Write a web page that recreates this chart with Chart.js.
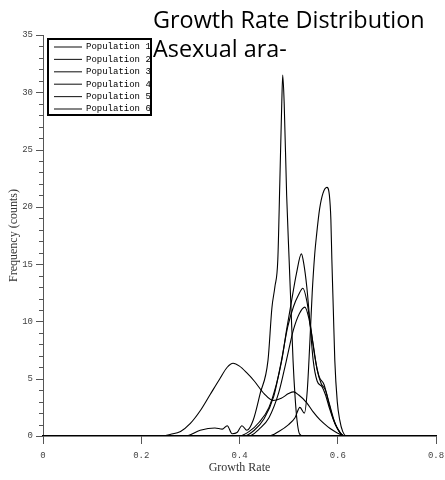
<!DOCTYPE html>
<html>
<head>
<meta charset="utf-8">
<script src="https://cdn.jsdelivr.net/npm/chart.js@4.4.1/dist/chart.umd.min.js"></script>
<style>
  html, body { margin: 0; padding: 0; background: #fff; }
  #wrap { width: 445px; height: 480px; position: relative; }
</style>
</head>
<body>
<div id="wrap"><canvas id="growth"></canvas></div>
<script>
// titles and labels
const titleLines = ["Growth Rate Distribution", "Asexual ara-"];
const seriesNames = ["Population 1", "Population 2", "Population 3", "Population 4", "Population 5", "Population 6"];
const xTickValues = [0, 0.2, 0.4, 0.6, 0.8];

// growth rate (x) and frequency (y), one pair per population
const pop1X = [0, 0.24, 0.26, 0.28, 0.30, 0.32, 0.34, 0.36, 0.375, 0.387, 0.40, 0.415, 0.43, 0.45, 0.468, 0.485, 0.50, 0.51, 0.52, 0.537, 0.55, 0.564, 0.58, 0.59, 0.60, 0.615, 0.8];
const pop1Y = [0, 0, 0.15, 0.4, 1.1, 2.2, 3.6, 5.0, 6.0, 6.35, 6.1, 5.5, 4.8, 3.7, 3.1, 3.3, 3.7, 3.85, 3.6, 2.9, 2.1, 1.4, 0.8, 0.5, 0.25, 0, 0];

const pop2X = [0, 0.29, 0.32, 0.35, 0.365, 0.375, 0.385, 0.395, 0.405, 0.415, 0.428, 0.442, 0.458, 0.466, 0.472, 0.478, 0.482, 0.486, 0.488, 0.491, 0.496, 0.501, 0.505, 0.509, 0.513, 0.517, 0.522, 0.53, 0.8];
const pop2Y = [0, 0, 0.5, 0.7, 0.6, 0.9, 0.2, 0.3, 0.9, 0.5, 1.4, 3.7, 6.6, 11.2, 13.0, 15.4, 22, 29, 31.5, 29, 21, 15.4, 11, 6.6, 3.5, 1.4, 0.2, 0, 0];

const pop3X = [0, 0.46, 0.48, 0.50, 0.513, 0.523, 0.532, 0.538, 0.543, 0.548, 0.553, 0.557, 0.563, 0.57, 0.578, 0.583, 0.586, 0.588, 0.591, 0.594, 0.599, 0.604, 0.61, 0.618, 0.8];
const pop3Y = [0, 0, 0.4, 1.0, 1.6, 2.5, 2.0, 4, 8, 12.5, 15.8, 17.6, 19.8, 21.2, 21.7, 21, 18.9, 15.4, 11, 6.6, 3.0, 1.4, 0.4, 0, 0];

const pop4X = [0, 0.40, 0.42, 0.44, 0.46, 0.475, 0.486, 0.496, 0.506, 0.516, 0.526, 0.531, 0.537, 0.543, 0.55, 0.558, 0.568, 0.575, 0.584, 0.595, 0.605, 0.615, 0.8];
const pop4Y = [0, 0, 0.4, 1.2, 2.5, 4.5, 6.6, 9.3, 11.8, 14.2, 15.9, 15, 13, 10.1, 6.6, 4.8, 4.3, 3.6, 2.3, 1.0, 0.3, 0, 0];

const pop5X = [0, 0.41, 0.43, 0.45, 0.47, 0.485, 0.498, 0.51, 0.52, 0.529, 0.537, 0.545, 0.553, 0.562, 0.572, 0.58, 0.59, 0.60, 0.612, 0.8];
const pop5Y = [0, 0, 0.5, 1.5, 3.5, 6.5, 9.5, 11.3, 12.3, 12.9, 11.8, 9.5, 7, 5.2, 4.5, 3.2, 1.6, 0.6, 0, 0];

const pop6X = [0, 0.42, 0.44, 0.46, 0.48, 0.495, 0.51, 0.522, 0.533, 0.541, 0.55, 0.558, 0.566, 0.575, 0.583, 0.593, 0.603, 0.613, 0.8];
const pop6Y = [0, 0, 0.6, 1.6, 3.8, 6.5, 9.3, 10.7, 11.25, 10.3, 8, 5.8, 4.6, 4.0, 2.8, 1.3, 0.4, 0, 0];

const allX = [pop1X, pop2X, pop3X, pop4X, pop5X, pop6X];
const allY = [pop1Y, pop2Y, pop3Y, pop4Y, pop5Y, pop6Y];

const monoFont = "'Liberation Mono', 'DejaVu Sans Mono', monospace";
const serifFont = "'Liberation Serif', 'DejaVu Serif', serif";

const datasets = seriesNames.map((name, i) => ({
    label: name,
    data: allX[i].map((x, j) => ({ x: x, y: allY[i][j] })),
    borderColor: "#000",
    borderWidth: 1.1,
    pointRadius: 0,
    fill: false,
    cubicInterpolationMode: "monotone"
}));

// y axis ticks: long at multiples of 5, short in between
const axisTicks = {
    id: "axisTicks",
    afterDraw(chart) {
        const c = chart.ctx;
        const ys = chart.scales.y;
        c.save();
        c.strokeStyle = "#555";
        c.lineWidth = 1;
        ys.ticks.forEach(t => {
            const py = Math.round(ys.getPixelForValue(t.value)) + 0.5;
            const len = t.value % 5 === 0 ? 7 : 4;
            c.beginPath();
            c.moveTo(ys.right - len, py);
            c.lineTo(ys.right, py);
            c.stroke();
        });
        c.restore();
    }
};

// boxed legend sitting inside the plot, top left
const boxLegend = {
    id: "boxLegend",
    afterDraw(chart) {
        const c = chart.ctx;
        const left = chart.chartArea.left + 5, top = chart.chartArea.top + 4;
        c.save();
        c.strokeStyle = "#000";
        c.lineWidth = 2;
        c.fillStyle = "#fff";
        c.fillRect(left, top, 103, 76);
        c.strokeRect(left, top, 103, 76);
        c.font = "9px " + monoFont;
        c.textBaseline = "middle";
        chart.data.datasets.forEach((ds, i) => {
            const y = top + 8 + i * 12.4;
            c.strokeStyle = "#222";
            c.lineWidth = 1.1;
            c.beginPath();
            c.moveTo(left + 6, y);
            c.lineTo(left + 34, y);
            c.stroke();
            c.fillStyle = "#000";
            c.fillText(ds.label, left + 38, y);
        });
        c.restore();
    }
};

// two line title written over the top right
const overTitle = {
    id: "overTitle",
    afterDraw(chart) {
        const c = chart.ctx;
        c.save();
        c.fillStyle = "#000";
        c.font = "23.4px 'Open Sans', 'Liberation Sans', sans-serif";
        c.textBaseline = "alphabetic";
        c.fillText(titleLines[0], 153, 28);
        c.fillText(titleLines[1], 153, 57);
        c.restore();
    }
};

new Chart(document.getElementById("growth"), {
    type: "line",
    data: { datasets: datasets },
    options: {
        responsive: true,
        maintainAspectRatio: false,
        animation: false,
        layout: { padding: { top: 35, right: 9, left: 0, bottom: 0 } },
        plugins: {
            legend: { display: false },
            tooltip: { enabled: false }
        },
        scales: {
            x: {
                type: "linear",
                min: 0,
                max: 0.8,
                afterFit(s) { s.height = 44; s.paddingLeft = 0; s.paddingRight = 9; },
                afterBuildTicks(s) { s.ticks = xTickValues.map(v => ({ value: v })); },
                grid: { drawOnChartArea: false, drawTicks: true, tickLength: 8, color: "#555" },
                border: { display: true, color: "#000", width: 1.5 },
                ticks: {
                    padding: 6,
                    maxRotation: 0,
                    color: "#444",
                    font: { family: monoFont, size: 9 },
                    callback: v => String(v)
                },
                title: {
                    display: true,
                    text: "Growth Rate",
                    color: "#333",
                    font: { family: serifFont, size: 12 },
                    padding: { top: 0, bottom: 5 }
                }
            },
            y: {
                min: 0,
                max: 35,
                afterFit(s) { s.width = 43; },
                grid: { drawOnChartArea: false, drawTicks: false },
                border: { display: true, color: "#555", width: 1 },
                ticks: {
                    stepSize: 1,
                    autoSkip: false,
                    padding: 10,
                    color: "#444",
                    font: { family: monoFont, size: 9 },
                    callback: v => (v % 5 === 0 ? String(v) : "")
                },
                title: {
                    display: true,
                    text: "Frequency (counts)",
                    color: "#333",
                    font: { family: serifFont, size: 12 },
                    padding: { top: 7, bottom: 0 }
                }
            }
        }
    },
    plugins: [axisTicks, boxLegend, overTitle]
});
</script>
</body>
</html>
